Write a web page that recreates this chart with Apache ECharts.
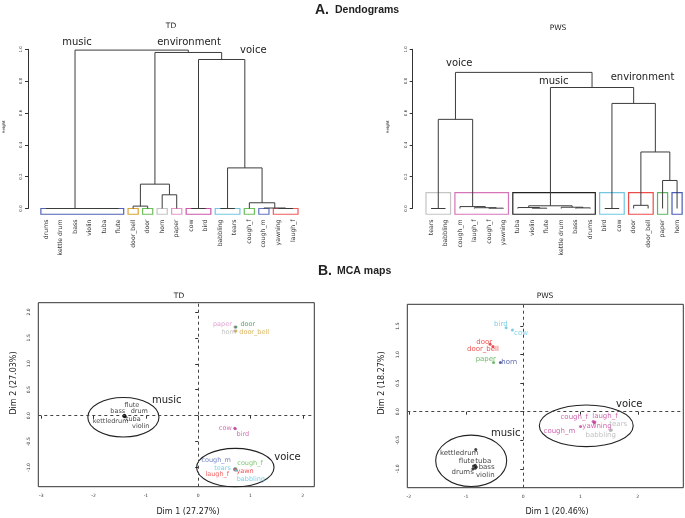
<!DOCTYPE html>
<html>
<head>
<meta charset="utf-8">
<script src="https://cdn.jsdelivr.net/npm/echarts@6/dist/echarts.min.js"></script>
<style>
  html, body { margin: 0; padding: 0; background: #fff; }
  #chart { width: 685px; height: 518px; }
</style>
</head>
<body>
<div id="chart"></div>
<script>
// ---- dendrogram data (hclust style merges: negative = leaf, positive = earlier merge) ----
const tdLeaves = ['drums', 'kettle drum', 'bass', 'violin', 'tuba', 'flute', 'door_bell', 'door', 'horn', 'paper',
  'cow', 'bird', 'babbling', 'tears', 'cough_f', 'cough_m', 'yawning', 'laugh_f'];
const tdMerge = [[-1, -2, 0], [-3, -4, 0], [-5, -6, 0], [2, 3, 0], [1, 4, 0], [-7, -8, 0.015], [-9, -10, 0.086],
  [6, 7, 0.153], [-11, -12, 0], [-13, -14, 0], [-17, -18, 0], [-16, 11, 0.003], [-15, 12, 0.036], [10, 13, 0.255],
  [9, 14, 0.936], [8, 15, 0.98], [5, 16, 0.995]];
const tdClusters = [[1, 6], [7, 7], [8, 8], [9, 9], [10, 10], [11, 12], [13, 14], [15, 15], [16, 16], [17, 18]];

const pwsLeaves = ['tears', 'babbling', 'cough_m', 'laugh_f', 'cough_f', 'yawning', 'tuba', 'violin', 'flute',
  'kettle drum', 'bass', 'drums', 'bird', 'cow', 'door', 'door_bell', 'paper', 'horn'];
const pwsMerge = [[-1, -2, 0], [-5, -6, 0.002], [-4, 2, 0.005], [-3, 3, 0.012], [1, 4, 0.56], [-8, -9, 0.002],
  [-7, 6, 0.006], [-11, -12, 0.004], [-10, 8, 0.008], [7, 9, 0.017], [-13, -14, 0], [-15, -16, 0.02],
  [-17, -18, 0.176], [12, 13, 0.355], [11, 14, 0.66], [10, 15, 0.76], [5, 16, 0.855]];
const pwsClusters = [[1, 2], [3, 6], [7, 12], [13, 14], [15, 16], [17, 17], [18, 18]];

const heightTicks = [0, 0.2, 0.4, 0.6, 0.8, 1.0];

// ---- MCA maps ----
const tdMapNames = ['paper', 'door', 'horn', 'door_bell', 'flute', 'bass', 'drum', 'kettledrum', 'tuba', 'violin',
  'cow', 'bird', 'cough_m', 'cough_f', 'tears', 'yawn', 'laugh_f', 'babbling'];
const tdMapX = [0.70, 0.72, 0.70, 0.72, -1.41, -1.42, -1.40, -1.42, -1.40, -1.40,
  0.70, 0.71, 0.70, 0.72, 0.70, 0.72, 0.70, 0.72];
const tdMapY = [1.71, 1.71, 1.63, 1.63, 0.01, 0.0, 0.0, -0.01, -0.01, -0.02,
  -0.24, -0.25, -1.02, -1.02, -1.03, -1.04, -1.04, -1.05];
const tdEllipses = [[-1.43, -0.03, 0.68, 0.38], [0.71, -1.0, 0.74, 0.37]]; // cx, cy, rx, ry
const tdXTicks = [-3, -2, -1, 0, 1, 2];
const tdYTicks = [-1, -0.5, 0, 0.5, 1, 1.5, 2];

const pwsMapNames = ['bird', 'cow', 'door', 'door_bell', 'paper', 'horn', 'cough_f', 'laugh_f', 'yawning', 'cough_m',
  'tears', 'babbling', 'kettledrum', 'flute', 'tuba', 'bass', 'drums', 'violin'];
const pwsMapX = [-0.30, -0.19, -0.58, -0.53, -0.52, -0.40, 1.22, 1.25, 1.24, 1.00,
  1.54, 1.52, -0.83, -0.87, -0.84, -0.82, -0.88, -0.84];
const pwsMapY = [1.47, 1.43, 1.18, 1.14, 0.86, 0.86, -0.17, -0.18, -0.20, -0.26,
  -0.32, -0.33, -0.66, -0.95, -0.94, -0.97, -1.00, -0.99];
const pwsEllipses = [[-0.91, -0.86, 0.62, 0.45], [1.10, -0.247, 0.82, 0.365]];
const pwsXTicks = [-2, -1, 0, 1, 2];
const pwsYTicks = [-1, -0.5, 0, 0.5, 1, 1.5];

// ---- styles ----
const tdClusterColors = ['#5262b4', '#d9a537', '#6cbf5a', '#c4c4c4', '#e596c6', '#cc55a8', '#71c7e2', '#6cbf5a', '#6373c4', '#f15a5a'];
const pwsClusterColors = ['#c4c4c4', '#d675b8', '#222222', '#71c7e2', '#ee4b4b', '#5cb85c', '#4a5ab8'];
const tdMapColors = ['#d98ac4', '#2f8f45', '#b5b5b5', '#cfa23a', '#111', '#111', '#111', '#111', '#111', '#111',
  '#c04c9c', '#c04c9c', '#5366b8', '#5cb84a', '#5bc0de', '#e82828', '#ef3b3b', '#5bc0de'];
const pwsMapColors = ['#5bc0de', '#5bc0de', '#e82828', '#e82828', '#4aaa44', '#2f3f99', '#c2419c', '#c2419c', '#c2419c', '#c2419c',
  '#b0b0b0', '#b0b0b0', '#111', '#111', '#111', '#111', '#111', '#111'];
const tdLabelOffsets = [[-12.4, -3], [12, -3], [-6, 1.6], [18.3, 1.6], [7.5, -10], [-6.2, -4], [14.3, -4], [-13.3, 5],
  [8.3, 3], [15.8, 10], [-9.5, 0], [7.5, 5.6], [-18.6, -8.2], [14.2, -5.2], [-12.3, -0.9], [9.2, 1.8], [-17.5, 5.1], [15, 9.1]];
const pwsLabelOffsets = [[-5.3, -3.5], [8.6, 2.7], [-5.9, -2.6], [-10, 2.4], [-7.7, -3.6], [8.8, -0.3], [-18.9, -4.7],
  [10.1, -5.3], [2.7, 2.9], [-21.1, 4.2], [6.8, -6], [-9.5, 4.5], [-16.6, 3.9], [-6.8, -4.9], [8.1, -4.4], [10.3, 0.2],
  [-10.2, 3.2], [10.1, 6.8]];

const FONT = 'DejaVu Sans';
const HEAD = 'Liberation Sans';

// lay out a dendrogram: each merge becomes [xLeft, hLeft, xRight, hRight, h]
function dendroSegments(merge) {
  const nodes = [];
  const get = r => (r < 0 ? [-r, 0] : nodes[r - 1]);
  return merge.map(m => {
    const a = get(m[0]), b = get(m[1]);
    nodes.push([(a[0] + b[0]) / 2, m[2]]);
    return [a[0], a[1], b[0], b[1], m[2]];
  });
}

function dendroItem(params, api) {
  const x1 = api.value(0), h1 = api.value(1), x2 = api.value(2), h2 = api.value(3), h = api.value(4);
  return {
    type: 'polyline',
    shape: { points: [api.coord([x1, h1]), api.coord([x1, h]), api.coord([x2, h]), api.coord([x2, h2])] },
    style: { stroke: '#3c3c3c', lineWidth: 1, fill: null }
  };
}

function boxSeries(clusters, colors, lo, hi, xi, yi) {
  return {
    type: 'custom', xAxisIndex: xi, yAxisIndex: yi, silent: true, z: 1,
    data: clusters.map(c => [c[0] - 0.35, c[1] + 0.35, lo, hi]),
    renderItem: (params, api) => {
      const p0 = api.coord([api.value(0), api.value(3)]);
      const p1 = api.coord([api.value(1), api.value(2)]);
      return {
        type: 'rect',
        shape: { x: p0[0], y: p0[1], width: p1[0] - p0[0], height: p1[1] - p0[1] },
        style: { stroke: colors[params.dataIndex], lineWidth: 1.2, fill: null }
      };
    }
  };
}

function ellipseSeries(ells, xi, yi) {
  return {
    type: 'custom', xAxisIndex: xi, yAxisIndex: yi, silent: true,
    data: ells,
    renderItem: (params, api) => {
      const c = api.coord([api.value(0), api.value(1)]);
      const s = api.size([api.value(2), api.value(3)]);
      return {
        type: 'ellipse',
        shape: { cx: c[0], cy: c[1], rx: s[0], ry: s[1] },
        style: { stroke: '#222', lineWidth: 1.1, fill: null }
      };
    }
  };
}

function pointSeries(names, xs, ys, colors, offsets, fs, xi, yi) {
  return {
    type: 'scatter', xAxisIndex: xi, yAxisIndex: yi, symbolSize: 3, z: 3,
    data: names.map((n, i) => ({
      name: n,
      value: [xs[i], ys[i]],
      itemStyle: { color: colors[i] },
      label: {
        show: true, position: 'inside', formatter: n, offset: offsets[i],
        color: colors[i], fontSize: fs, fontFamily: FONT
      }
    })),
    markLine: {
      silent: true, symbol: ['none', 'none'], label: { show: false },
      lineStyle: { type: [3, 3], color: '#444', width: 1 },
      data: [{ xAxis: 0 }, { yAxis: 0 }]
    }
  };
}

function dendroAxes(leaves, grid) {
  return [
    { type: 'value', gridIndex: grid, min: 0.5, max: 18.5, show: false, position: 'top' },
    {
      type: 'category', gridIndex: grid, data: leaves, position: 'bottom', boundaryGap: true,
      axisLine: { show: false }, axisTick: { show: false },
      axisLabel: { interval: 0, rotate: 90, margin: 11, fontSize: 6.2, color: '#333', fontFamily: FONT }
    }
  ];
}

function heightAxis(grid, offset) {
  return {
    type: 'value', gridIndex: grid, min: 0, max: 1, interval: 0.2, offset: offset,
    axisLine: { show: true, lineStyle: { color: '#333', width: 1 } },
    axisTick: { show: true, length: 3, lineStyle: { color: '#333' } },
    splitLine: { show: false },
    axisLabel: { rotate: 90, fontSize: 4, margin: 5, color: '#333', fontFamily: FONT, formatter: v => v.toFixed(1) }
  };
}

function mapXAxis(grid, min, max, ticks) {
  return {
    type: 'value', gridIndex: grid, min: min, max: max,
    axisLine: { show: false }, splitLine: { show: false },
    axisTick: { show: true, length: 3, customValues: ticks, lineStyle: { color: '#333' } },
    axisLabel: { customValues: ticks, fontSize: 4.5, margin: 7, color: '#333', fontFamily: FONT, formatter: v => String(v) }
  };
}

function mapYAxis(grid, min, max, ticks) {
  return {
    type: 'value', gridIndex: grid, min: min, max: max,
    axisLine: { show: false }, splitLine: { show: false },
    axisTick: { show: true, length: 3, customValues: ticks, lineStyle: { color: '#333' } },
    axisLabel: { customValues: ticks, rotate: 90, fontSize: 4.5, margin: 7, color: '#333', fontFamily: FONT, formatter: v => v.toFixed(1) }
  };
}

// annotation texts: [text, x, y, size, bold, align, rotated]
const texts = [
  ['A.', 315, 10, 14, true, 'left'], ['Dendograms', 335, 10.5, 10.5, true, 'left'],
  ['B.', 318, 271, 14, true, 'left'], ['MCA maps', 337, 271.5, 10.5, true, 'left'],
  ['TD', 171, 26, 7.5], ['PWS', 558, 28, 7.5],
  ['music', 77, 42.7, 10], ['environment', 189, 42.7, 10], ['voice', 253.3, 50, 10],
  ['voice', 459.2, 63.3, 10], ['music', 553.8, 81.7, 10], ['environment', 642.5, 77.3, 10],
  ['Height', 4, 127, 4, false, 'center', true], ['Height', 388, 127, 4, false, 'center', true],
  ['TD', 179, 296, 7.5], ['PWS', 545, 296, 7.5],
  ['music', 166.7, 400, 10], ['voice', 287.5, 457.3, 10], ['music', 505.8, 433.3, 10], ['voice', 629.2, 404, 10],
  ['Dim 1 (27.27%)', 188, 511.7, 8], ['Dim 2 (27.03%)', 14, 383, 8, false, 'center', true],
  ['Dim 1 (20.46%)', 557, 512.3, 8], ['Dim 2 (18.27%)', 381.5, 383, 8, false, 'center', true]
];

const chart = echarts.init(document.getElementById('chart'), null, { renderer: 'canvas' });
const gridBase = { containLabel: false, outerBoundsMode: 'none' };
const option = {
  animation: false,
  backgroundColor: '#fff',
  grid: [
    Object.assign({ left: 38.7, top: 49.3, width: 261.5, height: 159.2 }, gridBase),
    Object.assign({ left: 423.8, top: 49.3, width: 260.5, height: 159.2 }, gridBase),
    Object.assign({ left: 38.3, top: 302.7, width: 276, height: 184, show: true, borderColor: '#333', borderWidth: 1 }, gridBase),
    Object.assign({ left: 407.3, top: 304.3, width: 276, height: 183.4, show: true, borderColor: '#333', borderWidth: 1 }, gridBase)
  ],
  xAxis: [
    ...dendroAxes(tdLeaves, 0),
    ...dendroAxes(pwsLeaves, 1),
    mapXAxis(2, -3.057, 2.22, tdXTicks),
    mapXAxis(3, -2.026, 2.795, pwsXTicks)
  ],
  yAxis: [
    heightAxis(0, 10.7),
    heightAxis(1, 11.1),
    mapYAxis(2, -1.368, 2.177, tdYTicks),
    mapYAxis(3, -1.331, 1.881, pwsYTicks)
  ],
  series: [
    boxSeries(tdClusters, tdClusterColors, -0.036, 0, 0, 0),
    { type: 'custom', xAxisIndex: 0, yAxisIndex: 0, silent: true, z: 2, data: dendroSegments(tdMerge), renderItem: dendroItem },
    boxSeries(pwsClusters, pwsClusterColors, -0.036, 0.1, 2, 1),
    { type: 'custom', xAxisIndex: 2, yAxisIndex: 1, silent: true, z: 2, data: dendroSegments(pwsMerge), renderItem: dendroItem },
    ellipseSeries(tdEllipses, 4, 2),
    pointSeries(tdMapNames, tdMapX, tdMapY, tdMapColors, tdLabelOffsets, 6.5, 4, 2),
    ellipseSeries(pwsEllipses, 5, 3),
    pointSeries(pwsMapNames, pwsMapX, pwsMapY, pwsMapColors, pwsLabelOffsets, 7, 5, 3)
  ],
  graphic: texts.map(t => ({
    type: 'text', x: t[1], y: t[2], rotation: t[6] ? Math.PI / 2 : 0, silent: true,
    style: {
      text: t[0], fontSize: t[3], fontWeight: t[4] ? 'bold' : 'normal',
      fontFamily: t[4] ? HEAD : FONT, fill: '#222',
      align: t[5] || 'center', verticalAlign: 'middle'
    }
  }))
};
chart.setOption(option);
</script>
</body>
</html>
